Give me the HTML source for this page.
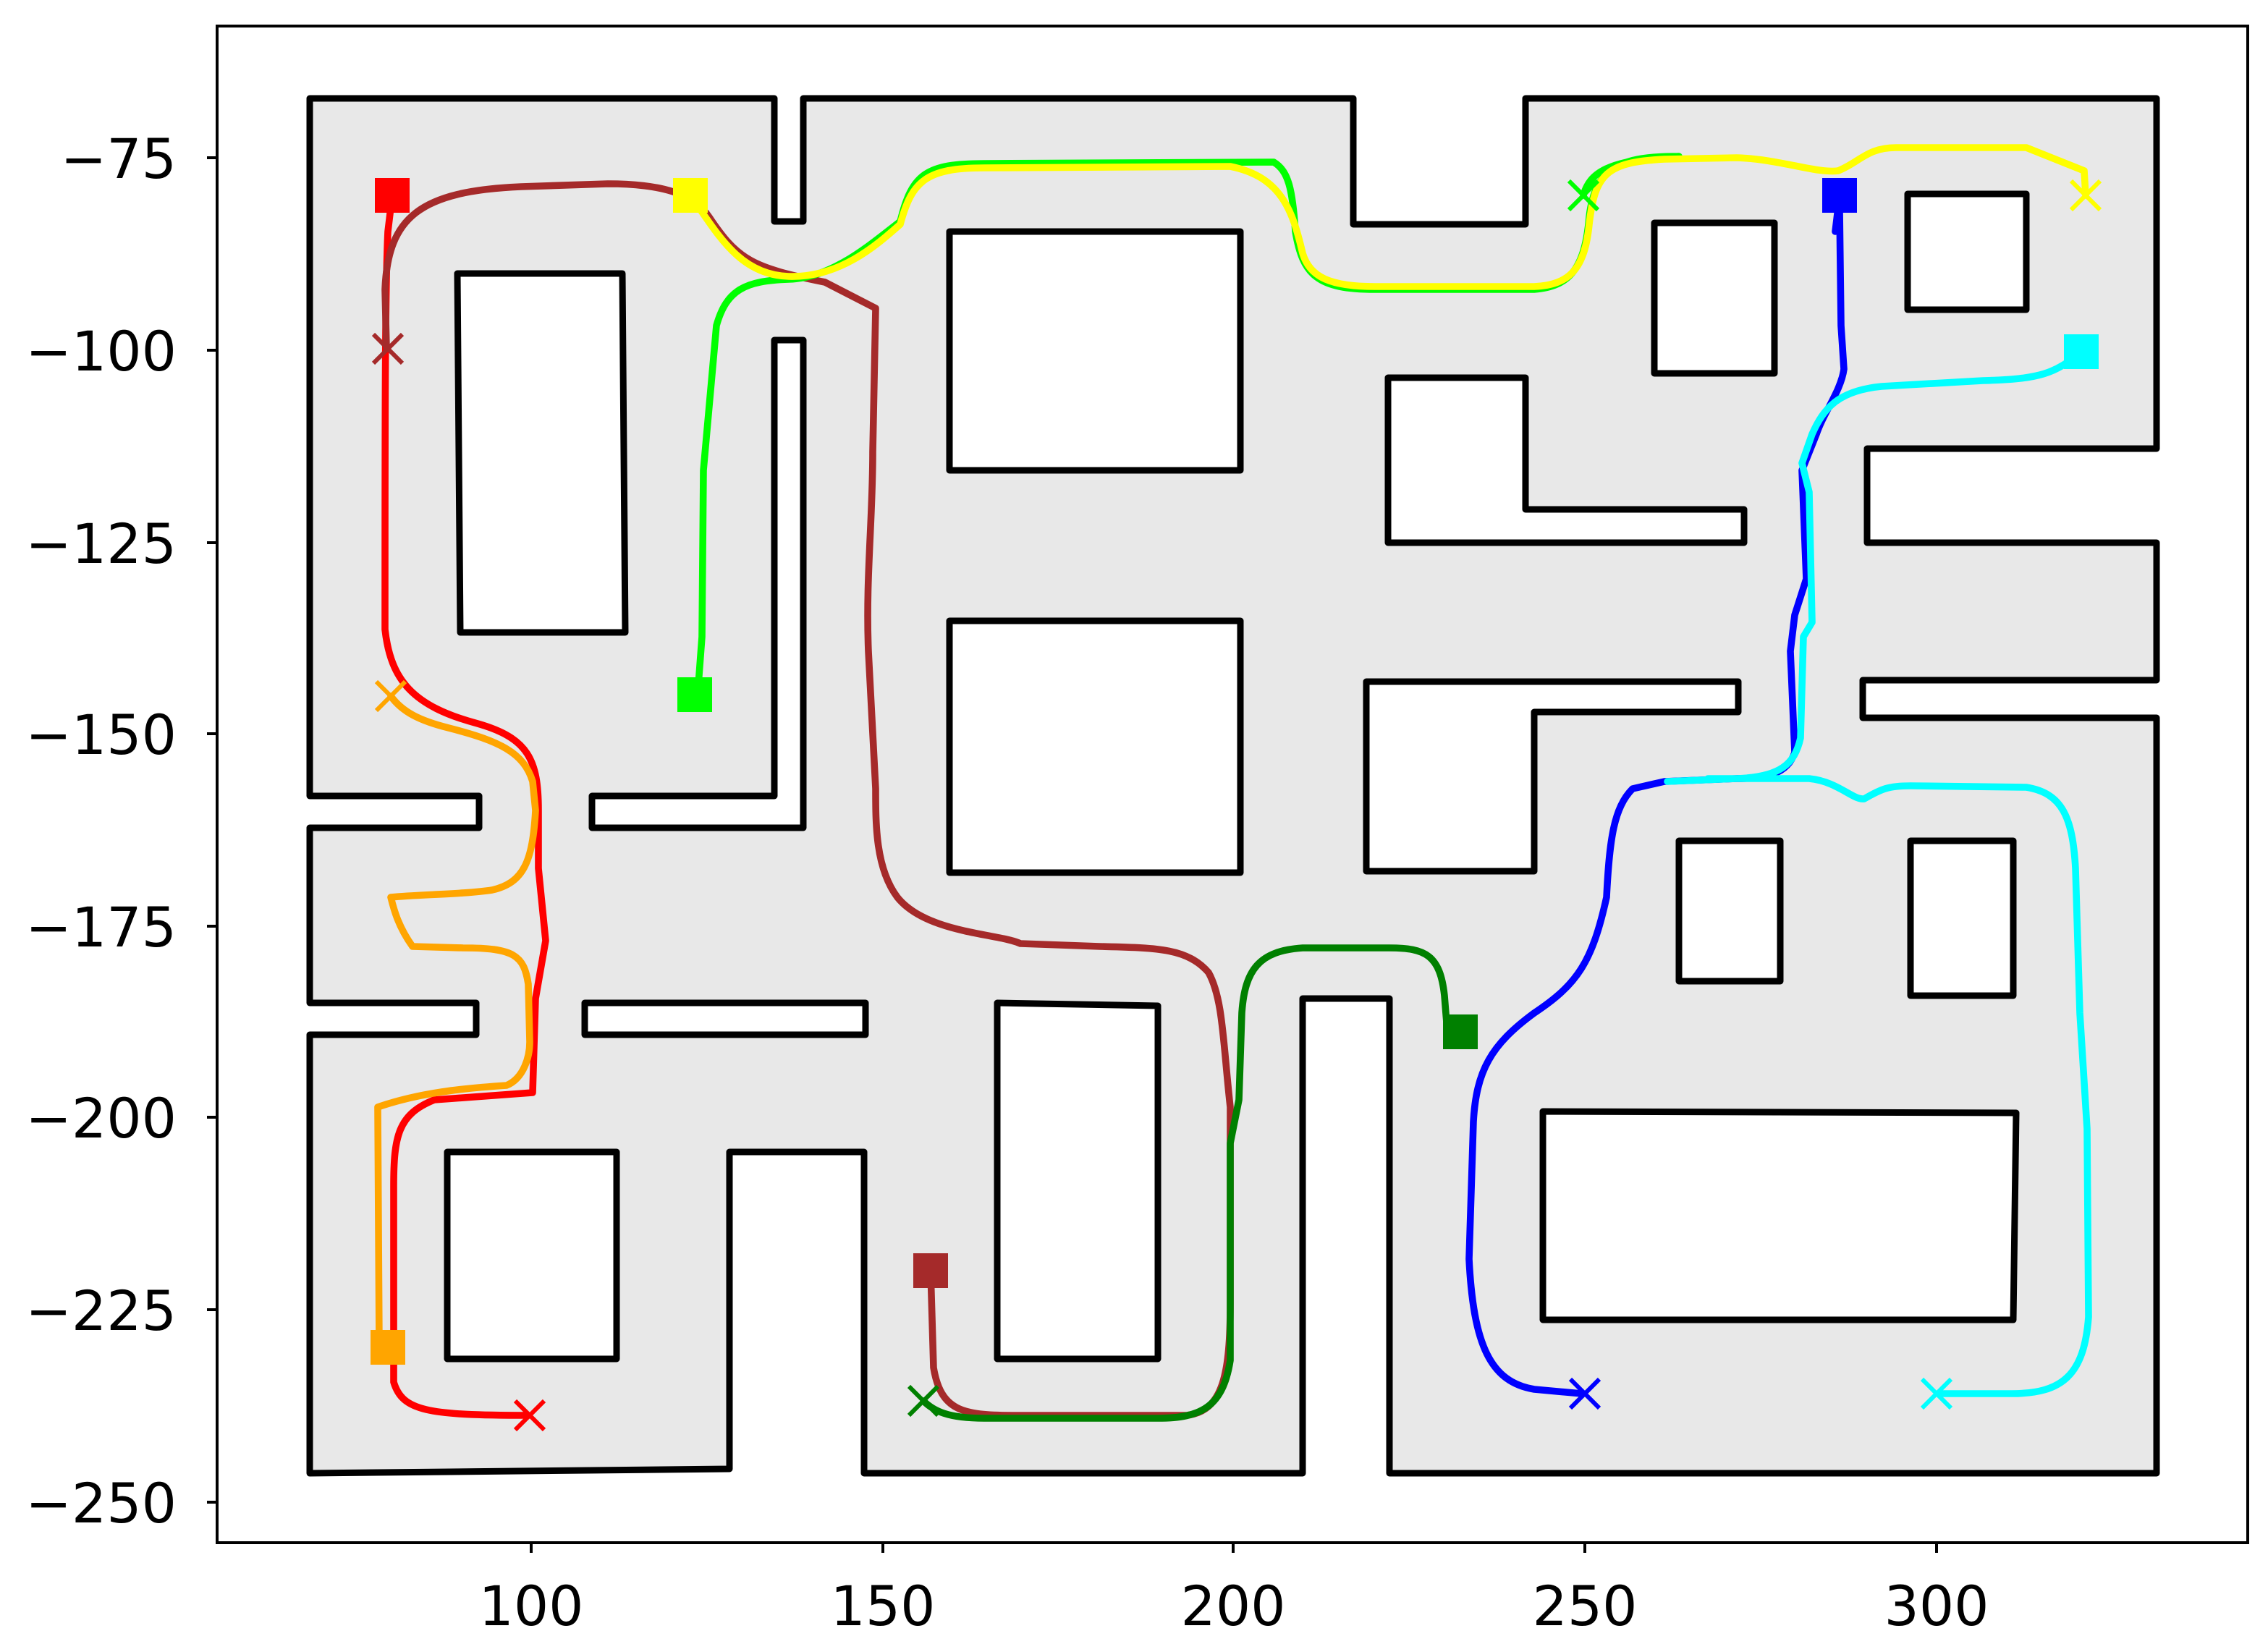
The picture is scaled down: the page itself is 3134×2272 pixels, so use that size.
<!DOCTYPE html>
<html><head><meta charset="utf-8"><style>
html,body{margin:0;padding:0;background:#fff;}
svg{display:block;}
text{font-family:"DejaVu Sans","Liberation Sans",sans-serif;font-size:38px;fill:#000;}
</style></head><body>
<svg width="3134" height="2272" viewBox="0 0 1567 1136" xmlns="http://www.w3.org/2000/svg">
<rect x="0" y="0" width="1567" height="1136" fill="#fff"/>
<g stroke="#000" stroke-width="4.5" stroke-linejoin="round">
<polygon fill="#e8e8e8" points="214,68 535,68 535,153 555,153 555,68 935,68 935,155 1054,155 1054,68 1490,68 1490,310 1290,310 1290,375 1490,375 1490,470 1287,470 1287,496 1490,496 1490,1018 960,1018 960,690 900,690 900,1018 597,1018 597,796 504,796 504,1015 214,1018 214,715 329,715 329,693 214,693 214,572 331,572 331,550 214,550"/>
<g fill="#fff">
<polygon points="316,189 430,189 432,437 318,437"/>
<polygon points="409,550 535,550 535,235 555,235 555,572 409,572"/>
<polygon points="656,160 857,160 857,325 656,325"/>
<polygon points="656,429 857,429 857,603 656,603"/>
<polygon points="959,261 1054,261 1054,352 1205,352 1205,375 959,375"/>
<polygon points="944,471 1201,471 1201,492 1060,492 1060,602 944,602"/>
<polygon points="1143,154 1226,154 1226,258 1143,258"/>
<polygon points="1318,134 1400,134 1400,214 1318,214"/>
<polygon points="1160,581 1230,581 1230,678 1160,678"/>
<polygon points="1320,581 1391,581 1391,688 1320,688"/>
<polygon points="1066,768 1393,769 1391,912 1066,912"/>
<polygon points="404,693 598,693 598,715 404,715"/>
<polygon points="689,693 800,695 800,939 689,939"/>
<polygon points="309,796 426,796 426,939 309,939"/>
</g>
</g>
<rect x="150" y="18" width="1403" height="1048" fill="none" stroke="#000" stroke-width="2"/>
<g stroke="#000" stroke-width="2">
<line x1="143" y1="109" x2="150" y2="109"/><line x1="143" y1="242" x2="150" y2="242"/><line x1="143" y1="375" x2="150" y2="375"/><line x1="143" y1="507" x2="150" y2="507"/><line x1="143" y1="640" x2="150" y2="640"/><line x1="143" y1="772" x2="150" y2="772"/><line x1="143" y1="905" x2="150" y2="905"/><line x1="143" y1="1038" x2="150" y2="1038"/>
<line x1="367" y1="1066" x2="367" y2="1073"/><line x1="610" y1="1066" x2="610" y2="1073"/><line x1="852" y1="1066" x2="852" y2="1073"/><line x1="1095" y1="1066" x2="1095" y2="1073"/><line x1="1338" y1="1066" x2="1338" y2="1073"/>
</g>
<g text-anchor="end">
<text x="122" y="123">−75</text><text x="122" y="256">−100</text><text x="122" y="389">−125</text><text x="122" y="521">−150</text><text x="122" y="654">−175</text><text x="122" y="786">−200</text><text x="122" y="919">−225</text><text x="122" y="1052">−250</text>
</g>
<g text-anchor="middle">
<text x="367" y="1123">100</text><text x="610" y="1123">150</text><text x="852" y="1123">200</text><text x="1095" y="1123">250</text><text x="1338" y="1123">300</text>
</g>
<g fill="none" stroke-width="4.8" stroke-linejoin="round" stroke-linecap="round">
<path stroke="#ff0000" d="M271,135 L268,160 C266,200 266,300 266,435 C270,470 285,488 330,500 C365,510 372,525 372,560 L372,600 L377,650 L370,690 L368,755 L300,760 C275,770 272,785 272,820 L272,955 C278,975 295,978 365,978"/>
<path stroke="#a52a2a" d="M643,878 L645,945 C650,975 665,978 700,978 L820,978 C845,975 850,950 850,900 L850,765 C845,720 845,690 835,672 C820,655 800,655 760,654 L705,652 C690,645 640,645 620,620 C605,600 605,570 605,545 L600,450 C598,400 603,360 603,312 L605,213 L570,195 C520,185 510,180 490,150 C480,135 460,127 420,127 L360,129 C290,132 268,150 266,200 L267,240"/>
<path stroke="#008000" d="M1000,713 L998,688 C995,660 985,655 960,655 L900,655 C870,657 860,670 858,700 L856,760 L850,790 L850,940 C845,972 830,980 800,980 L680,980 C655,980 645,975 638,968"/>
<path stroke="#00ff00" d="M482,480 L485,440 L486,325 L495,225 C502,200 515,194 545,193 C575,192 600,170 622,153 C630,120 640,113 680,113 L880,112 C890,118 893,130 895,160 C900,190 910,200 950,200 L1060,200 C1085,198 1095,185 1098,150 C1102,115 1120,108 1160,108 M1094,135 C1098,120 1110,110 1160,108"/>
<path stroke="#ffff00" d="M477,135 C495,160 510,190 545,191 C580,192 605,170 622,155 C630,125 640,116 680,116 L850,115 C885,122 893,145 900,175 C905,192 920,198 950,198 L1060,198 C1085,197 1095,185 1098,155 C1102,120 1110,112 1150,110 L1200,109 C1230,110 1255,120 1270,118 C1285,112 1290,102 1310,102 L1400,102 L1440,118 L1441,135"/>
<path stroke="#0000ff" d="M1268,160 L1271,135 L1271,145 L1272,225 L1274,255 C1272,270 1260,285 1255,300 L1245,325 L1248,400 L1240,425 L1237,450 L1240,520 C1235,535 1220,538 1200,538 L1150,540 L1128,545 C1115,558 1112,580 1110,620 C1100,665 1090,680 1060,700 C1030,722 1020,740 1018,775 L1015,870 C1018,930 1030,955 1060,960 L1093,963"/>
<path stroke="#00ffff" d="M1438,243 C1420,258 1410,262 1370,263 L1300,267 C1270,270 1260,282 1252,300 L1245,320 L1250,340 L1252,430 L1246,440 L1244,510 C1240,528 1230,537 1200,538 L1152,540 M1180,538 L1250,538 C1270,540 1280,553 1288,552 C1300,545 1305,543 1320,543 L1400,544 C1425,548 1432,565 1434,600 L1437,700 L1442,780 L1443,910 C1440,950 1425,963 1390,963 L1340,963"/>
<path stroke="#ffa500" d="M262,931 L261,765 C290,755 320,752 350,750 C362,745 366,730 366,720 L365,680 C362,660 355,655 320,655 L285,654 C275,640 272,628 270,620 C290,618 320,618 340,615 C362,610 368,595 370,560 L368,540 C362,520 345,512 310,503 C290,498 278,492 270,481"/>
</g>
<g>
<rect x="259" y="123" width="24" height="24" fill="#ff0000"/>
<rect x="465" y="123" width="24" height="24" fill="#ffff00"/>
<rect x="468" y="468" width="24" height="24" fill="#00ff00"/>
<rect x="631" y="866" width="24" height="24" fill="#a52a2a"/>
<rect x="997" y="701" width="24" height="24" fill="#008000"/>
<rect x="1259" y="123" width="24" height="24" fill="#0000ff"/>
<rect x="1426" y="231" width="24" height="24" fill="#00ffff"/>
<rect x="256" y="919" width="24" height="24" fill="#ffa500"/>
</g>
<g stroke-width="3" fill="none">
<path stroke="#ff0000" d="M356,968 L376,988 M356,988 L376,968"/>
<path stroke="#a52a2a" d="M258,231 L278,251 M258,251 L278,231"/>
<path stroke="#008000" d="M628,958 L648,978 M628,978 L648,958"/>
<path stroke="#00ff00" d="M1084,125 L1104,145 M1084,145 L1104,125"/>
<path stroke="#ffff00" d="M1431,125 L1451,145 M1431,145 L1451,125"/>
<path stroke="#0000ff" d="M1085,953 L1105,973 M1085,973 L1105,953"/>
<path stroke="#00ffff" d="M1328,953 L1348,973 M1328,973 L1348,953"/>
<path stroke="#ffa500" d="M260,471 L280,491 M260,491 L280,471"/>
</g>
</svg>
</body></html>
